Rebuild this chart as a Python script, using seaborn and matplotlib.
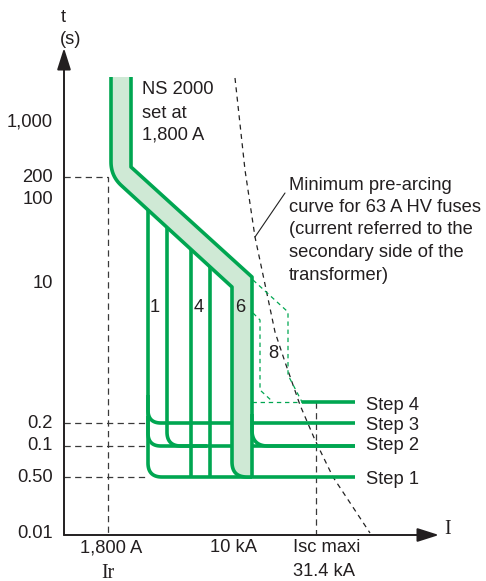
import numpy as np
import pandas as pd
import matplotlib
matplotlib.use("Agg")
import matplotlib.pyplot as plt
import seaborn as sns

# ---------------- data (diagram units: x = position along I axis, y = position along t axis)
time_tick_pos = [413, 358, 335, 252, 112, 89, 58, 2]
time_tick_labels = ["1,000", "200", "100", "10", "0.2", "0.1", "0.50", "0.01"]

# NS 2000 tolerance band (upper/right edge and lower/left edge)
band_hi_x = [67, 67, 188, 188]
band_hi_y = [458, 368, 258, 58]
band_lo_x = [47, 47, 168, 168, 188]
band_lo_y = [458, 359, 248, 58, 58]

# short-time settings (vertical parts of curves 1..4)
setting_x = [84, 103, 127, 146]
setting_bottom = [58, 89, 58, 58]

# time-delay steps
step_levels = [58, 89, 112, 133]
step_names = ["Step 1", "Step 2", "Step 3", "Step 4"]
step_label_y = [55, 90, 110, 130]
step_end = 291
step4_start = 238

# setting 8 (dashed zone beyond the band)
s8_outer_x = [189, 224, 224, 238]
s8_outer_y = [255, 223, 160, 133]
s8_inner_x = [189, 196, 196, 209]
s8_inner_y = [222, 215, 145, 133]

# minimum pre-arcing curve of 63 A HV fuses
fuse_x = [171, 181, 191, 198, 211, 221, 236, 251, 269, 306]
fuse_y = [457, 365, 298, 265, 203, 173, 130, 95, 58, 2]

ir_pos, ir_time = 44, 358
isc_pos = 252

GREEN = "#00a651"
LIGHT = "#cfe9d5"
INK = "#231f20"
DASH = "#3a3a3a"


def fillet(xs, ys, radii, n=18):
    pts = np.column_stack([xs, ys]).astype(float)
    out = [pts[0]]
    for i in range(1, len(pts) - 1):
        r = radii[i]
        p0, p1, p2 = pts[i - 1], pts[i], pts[i + 1]
        if r <= 0:
            out.append(p1)
            continue
        d1 = (p0 - p1) / np.linalg.norm(p0 - p1)
        d2 = (p2 - p1) / np.linalg.norm(p2 - p1)
        a, b = p1 + d1 * r, p1 + d2 * r
        t = np.linspace(0, 1, n)[:, None]
        out.extend((1 - t) ** 2 * a + 2 * (1 - t) * t * p1 + t ** 2 * b)
    out.append(pts[-1])
    return np.array(out)


sns.set_theme(style="white")
plt.rcParams["font.family"] = ["Liberation Sans", "DejaVu Sans"]

fig = plt.figure(figsize=(4.86, 5.81), dpi=100)
ax = fig.add_axes([0, 0, 1, 1])
ax.set_xlim(-64, 422)
ax.set_ylim(-46, 535)
ax.axis("off")


def draw(pts, color=GREEN, lw=2.6, ls="-", z=3):
    pts = np.asarray(pts, dtype=float)
    df = pd.DataFrame({"x": pts[:, 0], "y": pts[:, 1]})
    sns.lineplot(data=df, x="x", y="y", sort=False, estimator=None, ax=ax,
                 color=color, linewidth=lw, linestyle=ls, zorder=z,
                 solid_capstyle="butt", dash_capstyle="butt")


def band_low(x):
    return np.interp(x, band_lo_x[1:3], band_lo_y[1:3])


# reference dashed lines
dash_style = (0, (5, 3.5))
draw(np.column_stack([[0, ir_pos, ir_pos], [ir_time, ir_time, 0]]), DASH, 0.9, dash_style, 1)
for lvl in step_levels[:3]:
    draw([[0, lvl], [setting_x[0], lvl]], DASH, 0.9, dash_style, 1)
draw([[isc_pos, step_levels[3]], [isc_pos, 0]], DASH, 0.9, dash_style, 1)

# fuse curve and its leader
draw(np.column_stack([fuse_x, fuse_y]), "#222222", 0.9, (0, (4, 3.5)), 2)
ax.plot([191, 221], [298, 342], color="#222222", lw=0.8, zorder=2)

# curve 1 with its step branches
x1 = setting_x[0]
draw(fillet([x1, x1, step_end], [band_low(x1), step_levels[0], step_levels[0]], [0, 14, 0]))
draw(fillet([x1, x1, step_end], [step_levels[2] + 28, step_levels[2], step_levels[2]], [0, 13, 0]))
draw(fillet([x1, x1, step_end], [step_levels[1] + 30, step_levels[1], step_levels[1]], [0, 13, 0]))

# other settings, starting from the band lower diagonal
for sx, sb in zip(setting_x[1:], setting_bottom[1:]):
    top = band_low(sx)
    if sb == step_levels[0]:
        draw([[sx, top], [sx, sb]])
    else:
        draw(fillet([sx, sx, sx + 40], [top, sb, sb], [0, 14, 0]))

# band fill and edges
hi = fillet(band_hi_x, band_hi_y, [0, 0, 0, 0])
lo = fillet(band_lo_x, band_lo_y, [0, 14, 0, 15, 0])
poly = np.vstack([hi, lo[::-1]])
ax.fill(poly[:, 0], poly[:, 1], color=LIGHT, zorder=3.5, lw=0)
draw(hi, z=4)
draw(lo, z=4)

# branch from band right edge to Step 2
draw(fillet([band_hi_x[-1], band_hi_x[-1], step_end],
            [step_levels[1] + 32, step_levels[1], step_levels[1]], [0, 16, 0]), z=4)

# step 4
draw([[step4_start, step_levels[3]], [step_end, step_levels[3]]])

# setting 8 dashed zone
gd = (0, (3.5, 3))
draw(np.column_stack([s8_outer_x, s8_outer_y]), GREEN, 0.9, gd, 2)
draw(np.column_stack([s8_inner_x, s8_inner_y]), GREEN, 0.9, gd, 2)
draw([[band_hi_x[-1], step_levels[3]], [step4_start, step_levels[3]]], GREEN, 0.9, gd, 2)

# axes with arrows
for tip in [(0, 487), (375, 0)]:
    ax.annotate("", xy=tip, xytext=(0, 0),
                arrowprops=dict(arrowstyle="-|>,head_length=1.1,head_width=0.35",
                                color=INK, lw=1.4, shrinkA=0, shrinkB=0,
                                mutation_scale=12), zorder=5)

fs = 13.2
for p, lab in zip(time_tick_pos, time_tick_labels):
    ax.text(-11, p, lab, ha="right", va="center", fontsize=fs, color=INK)

ax.text(-1, 518, "t", ha="center", va="center", fontsize=fs, color=INK)
ax.text(7, 495, "(s)", ha="center", va="center", fontsize=fs, color=INK)
ax.text(384, 6, "I", ha="center", va="center", fontsize=fs + 1, color=INK,
        family="Liberation Serif")

ax.text(47, -13, "1,800 A", ha="center", va="center", fontsize=fs, color=INK)
ax.text(44, -38, "Ir", ha="center", va="center", fontsize=fs + 1, color=INK,
        family="Liberation Serif")
ax.text(169, -13, "10 kA", ha="center", va="center", fontsize=fs, color=INK)
ax.text(229, -13, "Isc maxi", ha="left", va="center", fontsize=fs, color=INK)
ax.text(229, -37, "31.4 kA", ha="left", va="center", fontsize=fs, color=INK)

for ly, name in zip(step_label_y, step_names):
    ax.text(302, ly, name, ha="left", va="center", fontsize=fs, color=INK)

for (lx, ly), lab in zip([(91, 227), (135, 227), (176, 227), (209, 181)], ["1", "4", "6", "8"]):
    ax.text(lx, ly, lab, ha="center", va="center", fontsize=fs, color=INK, zorder=6)

for ly, line in zip([446, 422, 400], ["NS 2000", "set at", "1,800 A"]):
    ax.text(78, ly, line, ha="left", va="center", fontsize=fs, color=INK)

note = ["Minimum pre-arcing", "curve for 63 A HV fuses", "(current referred to the",
        "secondary side of the", "transformer)"]
for i, line in enumerate(note):
    ax.text(225, 350 - 22.5 * i, line, ha="left", va="center", fontsize=fs, color=INK)

fig.savefig("out.png", dpi=100)
